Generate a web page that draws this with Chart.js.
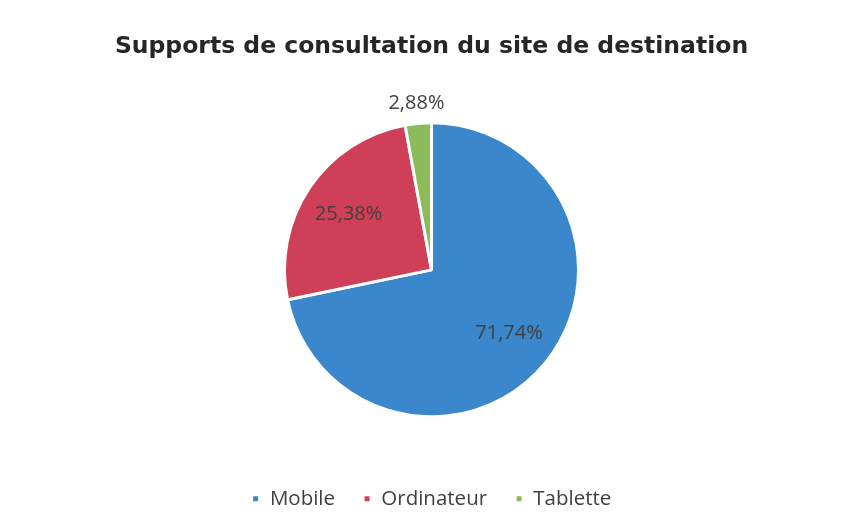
<!DOCTYPE html>
<html>
<head>
<meta charset="utf-8">
<script src="https://cdn.jsdelivr.net/npm/chart.js@4/dist/chart.umd.min.js"></script>
<style>
  html, body { margin: 0; padding: 0; background: #ffffff; }
  #wrap { width: 843px; height: 529px; }
</style>
</head>
<body>
<div id="wrap"><canvas id="chart"></canvas></div>
<script>
// data
var categories = ['Mobile', 'Ordinateur', 'Tablette'];
var shares = [71.74, 25.38, 2.88];
var sliceColors = ['#3a87cc', '#cf4058', '#8dbb5a'];
var labelsOutside = [false, false, true];

/**
 * Percent labels, French decimal comma
 */
function frPercent(v){
    return v.toFixed(2).replace('.', ',') + '%';
}

var pieLabels = {
    id: 'pieLabels',
    afterDatasetsDraw: function(chart){
        var ctx = chart.ctx;
        var meta = chart.getDatasetMeta(0);
        ctx.save();
        ctx.font = '20px "Open Sans"';
        ctx.fillStyle = '#404040';
        ctx.textAlign = 'center';
        ctx.textBaseline = 'middle';
        meta.data.forEach(function(arc, i){
            var p = arc.getProps(['x', 'y', 'startAngle', 'endAngle', 'outerRadius'], true);
            var mid = (p.startAngle + p.endAngle) / 2;
            var dist = labelsOutside[i] ? p.outerRadius + 20 : p.outerRadius * 0.68;
            ctx.fillText(frPercent(shares[i]), p.x + Math.cos(mid) * dist, p.y + Math.sin(mid) * dist);
        });
        ctx.restore();
    }
};

var ctx = document.getElementById('chart').getContext('2d');
new Chart(ctx, {
    type: 'pie',
    data: {
        labels: categories,
        datasets: [{
            data: shares,
            backgroundColor: sliceColors,
            borderColor: '#ffffff',
            borderWidth: 3,
            radius: 147
        }]
    },
    options: {
        responsive: true,
        maintainAspectRatio: false,
        animation: false,
        layout: { padding: { top: 0, left: 20, right: 0, bottom: 10 } },
        plugins: {
            title: {
                display: true,
                text: 'Supports de consultation du site de destination',
                color: '#262626',
                font: { family: '"DejaVu Sans", Verdana', size: 23.5, weight: 'bold' },
                padding: { top: 33, bottom: 18 }
            },
            legend: {
                position: 'bottom',
                labels: {
                    boxWidth: 8,
                    boxHeight: 8,
                    padding: 28,
                    color: '#404040',
                    font: { family: '"Open Sans"', size: 20.5 }
                }
            },
            tooltip: { enabled: false }
        }
    },
    plugins: [pieLabels]
});
</script>
</body>
</html>
